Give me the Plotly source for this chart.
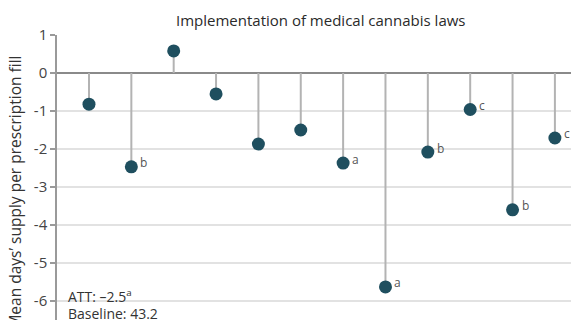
import plotly.graph_objects as go

states = list(range(1, 13))
values = [-0.82, -2.47, 0.58, -0.55, -1.87, -1.50, -2.37, -5.63, -2.08, -0.96, -3.60, -1.71]
flags = ["", "b", "", "", "", "", "a", "a", "b", "c", "b", "c"]
y_ticks = [1, 0, -1, -2, -3, -4, -5, -6]
title_text = "Implementation of medical cannabis laws"
y_title = "Mean days\u2019 supply per prescription fill"
att_text = "ATT: \u20132.5<sup>a</sup>"
baseline_text = "Baseline: 43.2"

FONT = "Open Sans"
DOT = "#1f4f5f"
STEM = "#b3b3b3"

stem_x, stem_y = [], []
for x, v in zip(states, values):
    stem_x += [x, x, None]
    stem_y += [0, v, None]

fig = go.Figure()
fig.add_trace(go.Scatter(x=stem_x, y=stem_y, mode="lines",
                         line=dict(color=STEM, width=2), hoverinfo="skip",
                         showlegend=False, cliponaxis=False))
fig.add_trace(go.Scatter(x=states, y=values, mode="markers",
                         marker=dict(color=DOT, size=13, line=dict(width=0)),
                         showlegend=False, cliponaxis=False))

for x, v, f in zip(states, values, flags):
    if f:
        fig.add_annotation(x=x, y=v, text=f, showarrow=False, xanchor="left",
                           xshift=7, yshift=4, font=dict(family=FONT, size=12, color="#555555"))

fig.add_annotation(xref="paper", yref="y", x=0.018, y=-5.87, text=att_text,
                   showarrow=False, xanchor="left", yanchor="middle",
                   font=dict(family=FONT, size=14, color="#333333"))
fig.add_annotation(xref="paper", yref="y", x=0.018, y=-6.32, text=baseline_text,
                   showarrow=False, xanchor="left", yanchor="middle",
                   font=dict(family=FONT, size=14, color="#333333"))

fig.add_annotation(xref="paper", yref="paper", x=0.514, y=1, text=title_text,
                   showarrow=False, xanchor="center", yanchor="middle", yshift=15,
                   font=dict(family=FONT, size=15, color="#2a2a2a", weight=500))

fig.add_annotation(xref="paper", yref="paper", x=0, y=0.447, xshift=-42,
                   text=y_title, textangle=-90, showarrow=False,
                   xanchor="center", yanchor="middle",
                   font=dict(family=FONT, size=15.5, color="#333333"))

fig.update_layout(
    width=571, height=320,
    margin=dict(l=57, r=0, t=35, b=0),
    paper_bgcolor="white", plot_bgcolor="white",
    font=dict(family=FONT, size=14, color="#444444"),
    xaxis=dict(range=[0.245, 12.38], visible=False, showgrid=False, zeroline=False),
    yaxis=dict(range=[-6.5, 1], tickvals=y_ticks, ticktext=[str(t) for t in y_ticks],
               showgrid=True, gridcolor="#e2e2e2", gridwidth=1.5,
               zeroline=True, zerolinecolor="#8a8a8a", zerolinewidth=1.5,
               showline=True, linecolor="#9a9a9a", linewidth=1.5,
               ticks="outside", ticklen=5, tickcolor="#9a9a9a", tickwidth=1.5,
               tickfont=dict(family=FONT, size=15, color="#444444")),
)

fig.write_html("out.html")
